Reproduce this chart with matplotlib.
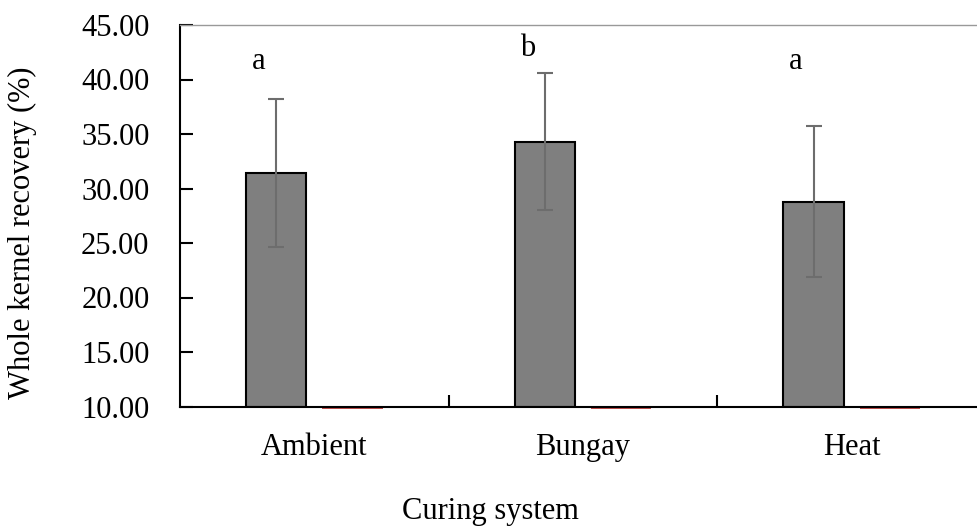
import numpy as np
import matplotlib.pyplot as plt

plt.rcParams['font.family'] = ['Liberation Serif', 'DejaVu Serif']

categories = ['Ambient', 'Bungay', 'Heat']
recovery = np.array([31.4, 34.3, 28.8])
recovery_err = np.array([6.8, 6.3, 6.9])
second_series = np.array([0.0, 0.0, 0.0])
letters = ['a', 'b', 'a']
letter_y = [41.0, 42.2, 41.0]

fs = 22
fig = plt.figure(figsize=(9.77, 5.29), dpi=100)
ax = fig.add_axes([180/977, 1-406.5/529, 806/977, (406.5-25)/529])

x = np.arange(len(categories)) + 0.5
w = 0.225
ax.bar(x - 0.142, recovery - 10, bottom=10, width=w, color='#7f7f7f',
       edgecolor='black', linewidth=1.5, zorder=2)
ax.errorbar(x - 0.142, recovery, yerr=recovery_err, fmt='none', ecolor='#6d6d6d',
            elinewidth=1.5, capsize=6, capthick=1.5, zorder=3)
# second series sits below the axis minimum, only a red sliver shows
ax.bar(x + 0.142, -0.2, bottom=10 - second_series, width=w, color='#c0504d',
       linewidth=0, clip_on=False, zorder=1)

for xi, lab, ly in zip(x, letters, letter_y):
    ax.text(xi - 0.142 - 0.065, ly, lab, ha='center', va='baseline', fontsize=fs)

ax.set_xlim(0, 3)
ax.set_ylim(10, 45)
ax.set_yticks(np.arange(10, 46, 5))
ax.set_yticklabels(['%.2f' % v for v in np.arange(10, 46, 5)], fontsize=fs)
ax.set_xticks([1, 2])
ax.set_xticklabels([])
ax.tick_params(axis='x', direction='in', length=9, width=1.5)
ax.tick_params(axis='y', direction='in', length=9, width=1.5, pad=22)
for xi, c in zip(x, categories):
    ax.annotate(c, (xi, 10), xytext=(0, -19), textcoords='offset points',
                ha='center', va='top', fontsize=fs)
fig.text(490/977, 1-512/529, 'Curing system', ha='center', va='center', fontsize=fs)
fig.text(22/977, 1-233/529, 'Whole kernel recovery (%)', ha='center', va='center',
         rotation=90, fontsize=fs)

ax.spines['right'].set_visible(False)
ax.spines['top'].set_color('#999999')
ax.spines['top'].set_linewidth(1)
ax.spines['left'].set_linewidth(1.5)
ax.spines['bottom'].set_linewidth(1.5)

fig.savefig('out.png', dpi=100)
